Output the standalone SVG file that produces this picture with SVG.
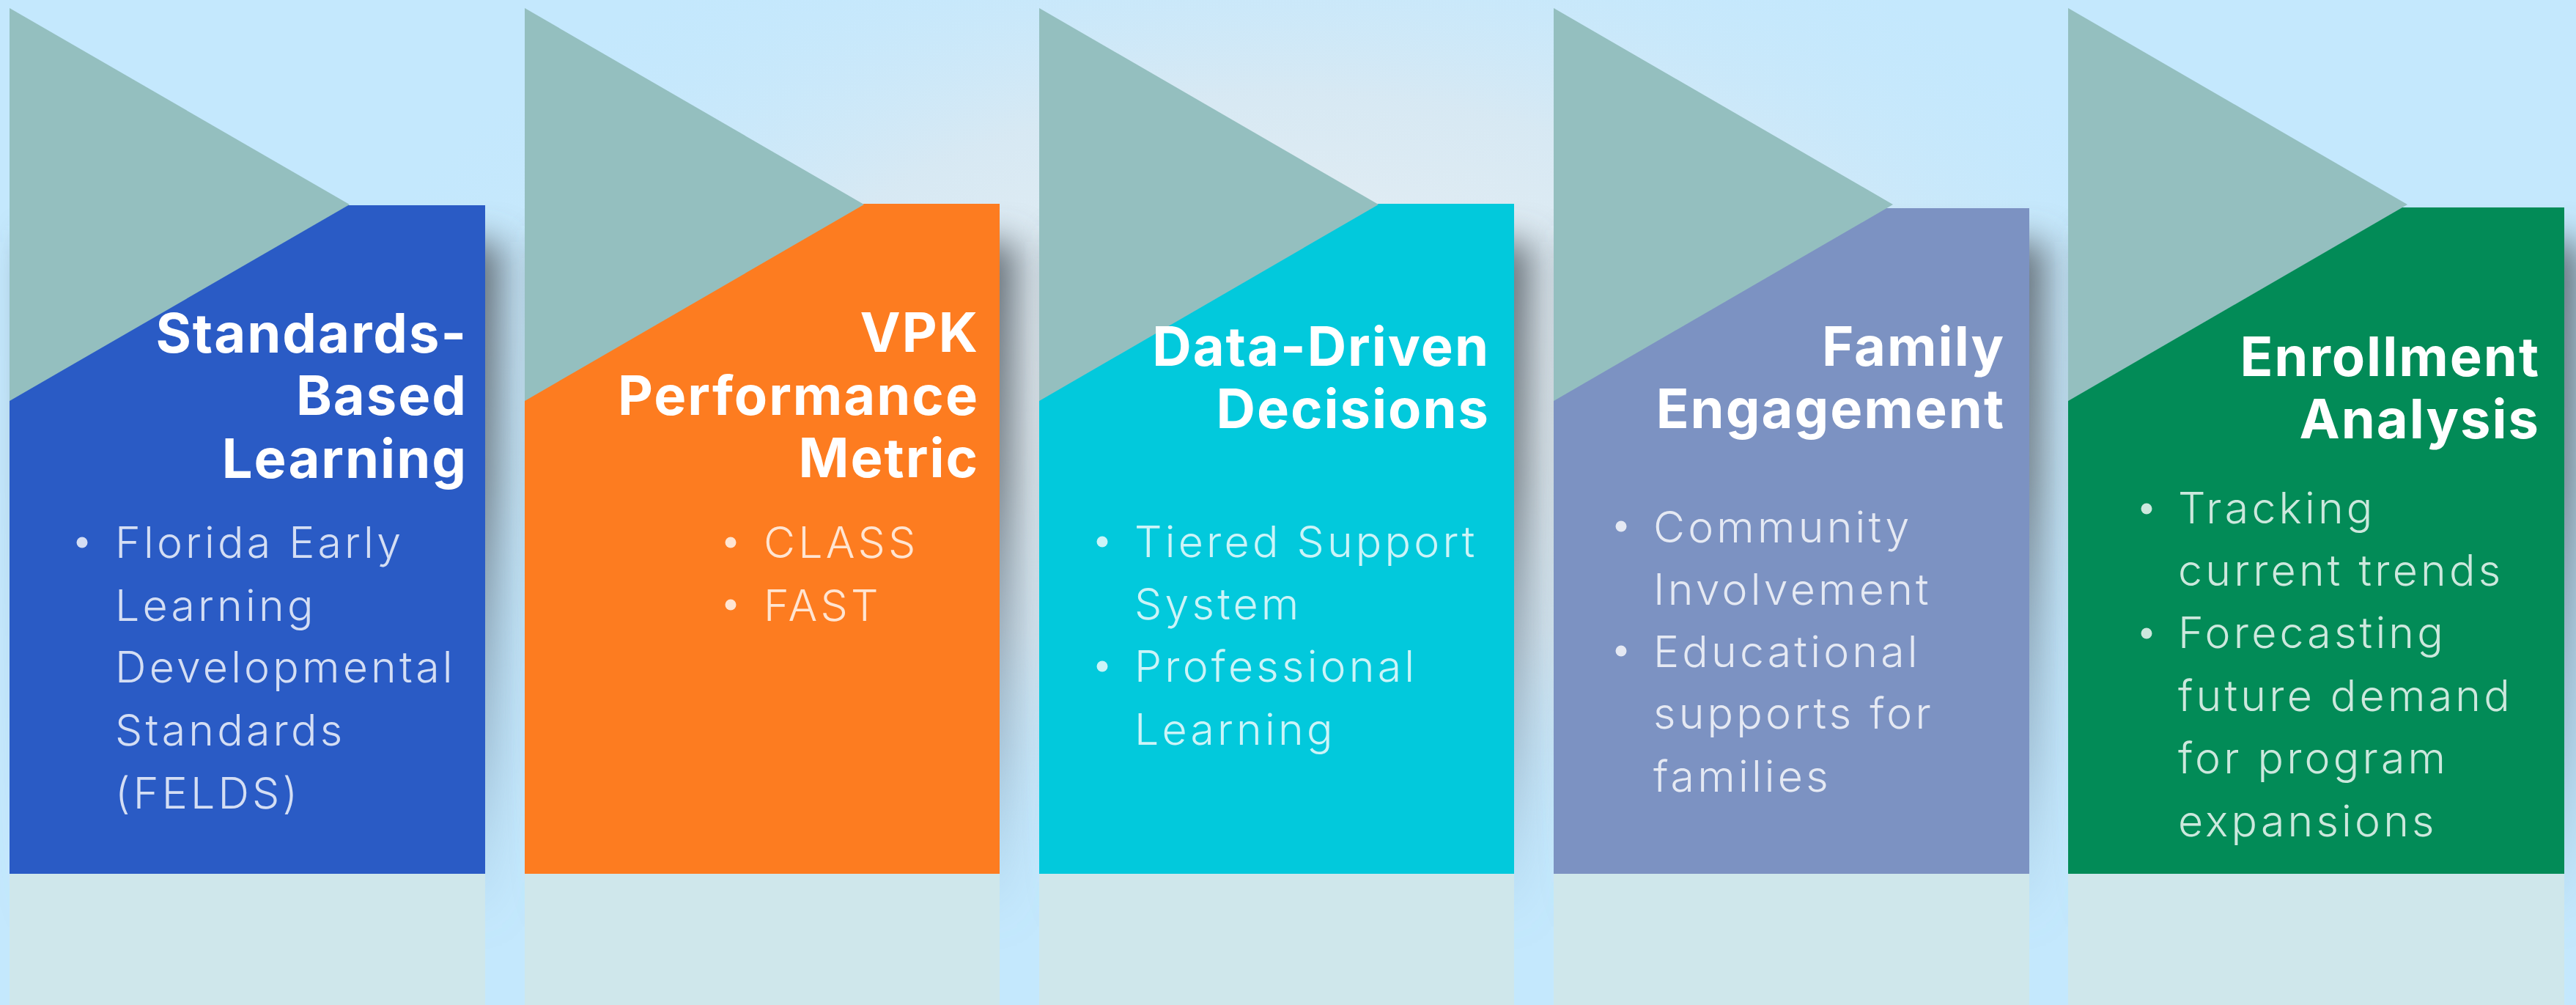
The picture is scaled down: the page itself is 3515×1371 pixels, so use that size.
<svg xmlns="http://www.w3.org/2000/svg" width="3515" height="1371" viewBox="0 0 3515 1371">
<defs>
<radialGradient id="glow" cx="1750" cy="520" r="1300" gradientUnits="userSpaceOnUse" gradientTransform="translate(1750 520) scale(1 0.55) translate(-1750 -520)">
<stop offset="0" stop-color="#EEF1F3"/>
<stop offset="0.55" stop-color="#DCE9F1" stop-opacity="0.8"/>
<stop offset="1" stop-color="#C4E8FD" stop-opacity="0"/>
</radialGradient>
<linearGradient id="shade" x1="0" y1="0" x2="0" y2="1">
<stop offset="0" stop-color="#5A636B" stop-opacity="0.9"/>
<stop offset="0.35" stop-color="#5E6870" stop-opacity="0.75"/>
<stop offset="0.75" stop-color="#6A8298" stop-opacity="0.35"/>
<stop offset="1" stop-color="#7EA6C4" stop-opacity="0"/>
</linearGradient>
<filter id="blur" x="-30%" y="-30%" width="160%" height="160%">
<feGaussianBlur stdDeviation="24"/>
</filter>
<style>
.tri{fill:#94BFBF}
.pale{fill:#CFE7EB}
.shadow{fill:url(#shade);filter:url(#blur)}
.title{font-family:Inter,"Liberation Sans",sans-serif;font-weight:700;font-size:74px;fill:#FFFFFF;text-anchor:end;letter-spacing:2px}
.body{font-family:Inter,"Liberation Sans",sans-serif;font-weight:350;font-size:59px;fill:#FFFFFF;fill-opacity:0.8;letter-spacing:4.2px}
.dot{fill:#FFFFFF;fill-opacity:0.8}
</style>
</defs>
<rect x="0" y="0" width="3515" height="1371" fill="#C4E8FD"/>
<rect x="0" y="0" width="3515" height="1371" fill="url(#glow)"/>
<g id="shadows">
<rect class="shadow" x="40" y="330" width="645" height="940"/>
<rect class="shadow" x="743" y="330" width="645" height="940"/>
<rect class="shadow" x="1445" y="330" width="645" height="940"/>
<rect class="shadow" x="2147" y="330" width="645" height="940"/>
<rect class="shadow" x="2850" y="330" width="672" height="940"/>
</g>
<g id="card1">
<rect x="13" y="280" width="649" height="913" fill="#2A5BC5"/>
<rect class="pale" x="13" y="1192" width="649" height="179"/>
<polygon class="tri" points="13,11 477,279 13,547"/>
<text class="title"><tspan x="638" y="481">Standards-</tspan><tspan x="638" y="566">Based</tspan><tspan x="638" y="652">Learning</tspan></text>
<circle class="dot" cx="112" cy="740" r="7.5"/>
<text class="body"><tspan x="157" y="761">Florida Early</tspan><tspan x="157" y="847">Learning</tspan><tspan x="157" y="931">Developmental</tspan><tspan x="157" y="1017">Standards</tspan><tspan x="157" y="1103">(FELDS)</tspan></text>
</g>
<g id="card2">
<rect x="716" y="278" width="648" height="915" fill="#FD7C20"/>
<rect class="pale" x="716" y="1192" width="648" height="179"/>
<polygon class="tri" points="716,11 1179,279 716,547"/>
<text class="title"><tspan x="1336" y="480">VPK</tspan><tspan x="1336" y="566">Performance</tspan><tspan x="1336" y="651">Metric</tspan></text>
<circle class="dot" cx="997" cy="740" r="7.5"/>
<circle class="dot" cx="997" cy="825" r="7.5"/>
<text class="body"><tspan x="1042" y="761">CLASS</tspan><tspan x="1042" y="847">FAST</tspan></text>
</g>
<g id="card3">
<rect x="1418" y="278" width="648" height="915" fill="#02C9DC"/>
<rect class="pale" x="1418" y="1192" width="648" height="179"/>
<polygon class="tri" points="1418,11 1881,279 1418,547"/>
<text class="title"><tspan x="2033" y="499">Data-Driven</tspan><tspan x="2033" y="584">Decisions</tspan></text>
<circle class="dot" cx="1504" cy="739" r="7.5"/>
<circle class="dot" cx="1504" cy="909" r="7.5"/>
<text class="body"><tspan x="1548" y="760">Tiered Support</tspan><tspan x="1548" y="845">System</tspan><tspan x="1548" y="930">Professional</tspan><tspan x="1548" y="1016">Learning</tspan></text>
</g>
<g id="card4">
<rect x="2120" y="284" width="649" height="909" fill="#7C92C2"/>
<rect class="pale" x="2120" y="1192" width="649" height="179"/>
<polygon class="tri" points="2120,11 2583,279 2120,547"/>
<text class="title"><tspan x="2736" y="499">Family</tspan><tspan x="2736" y="584">Engagement</tspan></text>
<circle class="dot" cx="2212" cy="718" r="7.5"/>
<circle class="dot" cx="2212" cy="888" r="7.5"/>
<text class="body"><tspan x="2256" y="740">Community</tspan><tspan x="2256" y="825">Involvement</tspan><tspan x="2256" y="910">Educational</tspan><tspan x="2256" y="994">supports for</tspan><tspan x="2256" y="1080">families</tspan></text>
</g>
<g id="card5">
<rect x="2822" y="283" width="677" height="910" fill="#028B57"/>
<rect class="pale" x="2822" y="1192" width="677" height="179"/>
<polygon class="tri" points="2822,11 3285,279 2822,547"/>
<text class="title"><tspan x="3466" y="513">Enrollment</tspan><tspan x="3466" y="598">Analysis</tspan></text>
<circle class="dot" cx="2929" cy="694" r="7.5"/>
<circle class="dot" cx="2929" cy="864" r="7.5"/>
<text class="body"><tspan x="2972" y="714">Tracking</tspan><tspan x="2972" y="799">current trends</tspan><tspan x="2972" y="884">Forecasting</tspan><tspan x="2972" y="970">future demand</tspan><tspan x="2972" y="1055">for program</tspan><tspan x="2972" y="1141">expansions</tspan></text>
</g>
<g id="connectors"></g>
</svg>
